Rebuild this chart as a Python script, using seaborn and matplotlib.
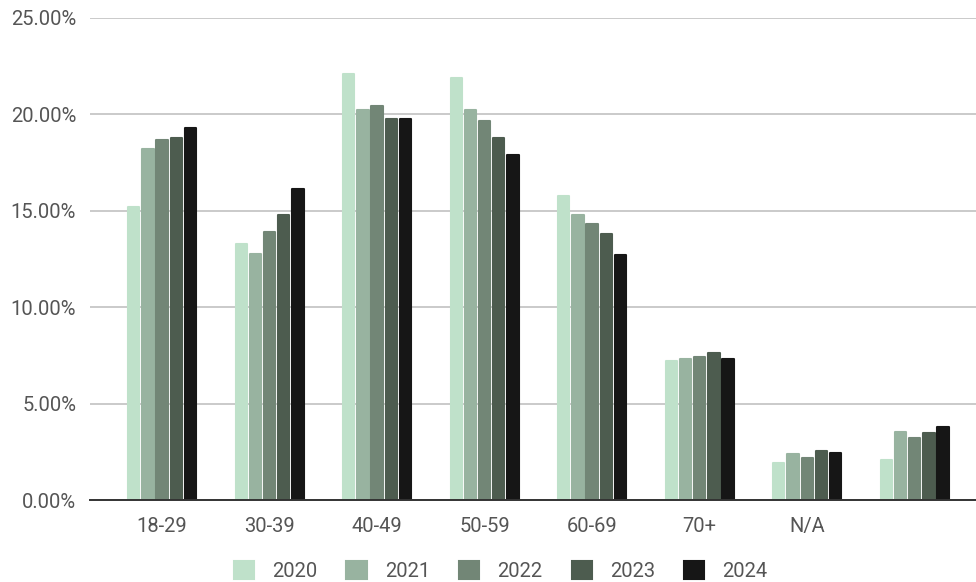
"""Distribución por grupo de edad, 2020-2024."""

import matplotlib.pyplot as plt
import pandas as pd
import seaborn as sns

age_groups = ["18-29", "30-39", "40-49", "50-59", "60-69", "70+", "N/A", ""]
years = ["2020", "2021", "2022", "2023", "2024"]

share_2020 = [15.2, 13.3, 22.1, 21.9, 15.75, 7.2, 1.9, 2.1]
share_2021 = [18.2, 12.75, 20.25, 20.25, 14.8, 7.3, 2.4, 3.55]
share_2022 = [18.65, 13.9, 20.45, 19.65, 14.3, 7.4, 2.2, 3.2]
share_2023 = [18.75, 14.8, 19.75, 18.8, 13.8, 7.65, 2.55, 3.45]
share_2024 = [19.3, 16.15, 19.75, 17.9, 12.7, 7.3, 2.45, 3.8]

colors = ["#bfe1ca", "#98b3a0", "#728676", "#4d5c4f", "#161616"]

series = [share_2020, share_2021, share_2022, share_2023, share_2024]
df = pd.DataFrame(
    [
        {"group": g, "year": y, "share": v}
        for y, vals in zip(years, series)
        for g, v in zip(age_groups, vals)
    ]
)

sns.set_theme(style="white")
plt.rcParams["font.family"] = ["Roboto", "DejaVu Sans"]

fig = plt.figure(figsize=(9.76, 5.82), dpi=100)
ax = fig.add_axes([90 / 976, 82 / 582, 886 / 976, 482 / 582])

sns.barplot(
    data=df,
    x="group",
    y="share",
    hue="year",
    order=age_groups,
    hue_order=years,
    palette=colors,
    width=0.66,
    gap=0.2,
    saturation=1,
    ax=ax,
    legend=True,
)
for patch in ax.patches:
    patch.set_edgecolor(patch.get_facecolor())
    patch.set_linewidth(1.5)
    patch.set_joinstyle("round")

ax.set_ylim(0, 25)
ax.set_xlim(-0.67, 7.57)
ax.set_yticks([0, 5, 10, 15, 20, 25])
ax.set_yticklabels([f"{t:.2f}%" for t in [0, 5, 10, 15, 20, 25]])
ax.yaxis.grid(True, color="#c6c6c6", linewidth=1.3)
ax.set_axisbelow(True)
for side in ["top", "right", "left"]:
    ax.spines[side].set_visible(False)
ax.spines["bottom"].set_color("#333333")
ax.spines["bottom"].set_linewidth(1.4)
ax.spines["bottom"].set_zorder(5)
ax.set_xlabel("")
ax.set_ylabel("")
ax.tick_params(axis="both", length=0, labelsize=14.5, colors="#555555")
ax.tick_params(axis="y", pad=10)
ax.tick_params(axis="x", pad=12)

handles, labels = ax.get_legend_handles_labels()
ax.legend_.remove()
fig.legend(
    handles,
    labels,
    loc="lower center",
    bbox_to_anchor=(0.513, -0.03),
    ncol=5,
    frameon=False,
    fontsize=14.5,
    labelcolor="#555555",
    handlelength=1.0,
    handleheight=1.0,
    handletextpad=0.9,
    columnspacing=1.45,
)

fig.savefig("out.png", dpi=100)
